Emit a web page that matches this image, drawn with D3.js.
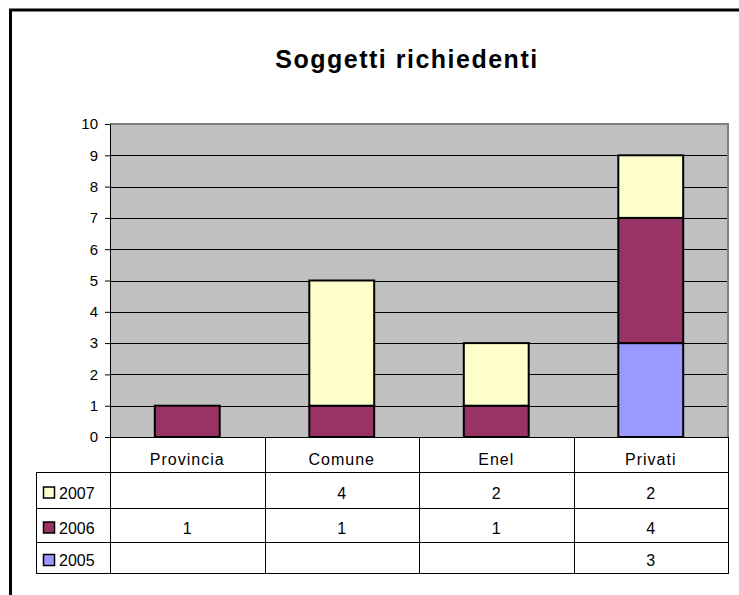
<!DOCTYPE html>
<html>
<head>
<meta charset="utf-8">
<script src="https://cdn.jsdelivr.net/npm/d3@7"></script>
<style>
  body { margin: 0; background: #fff; overflow: hidden; }
  svg { display: block; }
  text { font-family: "Liberation Sans", Arial, sans-serif; fill: #000; }
</style>
</head>
<body>
<svg width="739" height="595"></svg>
<script>
// data
var categories = ["Provincia", "Comune", "Enel", "Privati"];
var years = ["2005", "2006", "2007"];
var v2005 = [null, null, null, 3];
var v2006 = [1, 1, 1, 4];
var v2007 = [null, 4, 2, 2];
var yTicks = [0, 1, 2, 3, 4, 5, 6, 7, 8, 9, 10];

var colors = { "2005": "#9999FF", "2006": "#993366", "2007": "#FFFFCC" };
var seriesByYear = { "2005": v2005, "2006": v2006, "2007": v2007 };

var svg = d3.select("svg"),
	width = +svg.attr("width"),
	height = +svg.attr("height");

var plot = { left: 110, right: 728, top: 124, bottom: 437 };

// outer chart border (only top/left visible)
svg.append("path")
	.attr("d", "M10.5," + height + "V10H" + width)
	.attr("fill", "none")
	.attr("stroke", "#000")
	.attr("stroke-width", 3);

svg.append("text")
	.attr("x", 407).attr("y", 68)
	.attr("text-anchor", "middle")
	.style("font-size", "25px")
	.style("font-weight", "bold")
	.style("letter-spacing", "1.5px")
	.text("Soggetti richiedenti");

var x = d3.scaleBand()
	.domain(categories)
	.range([plot.left, plot.right])
	.paddingInner(0.58)
	.paddingOuter(0.29);

var xb = d3.scaleBand()
	.domain(categories)
	.range([plot.left, plot.right]);

var y = d3.scaleLinear()
	.domain([0, 10])
	.range([plot.bottom, plot.top]);

// plot background
svg.append("rect")
	.attr("x", plot.left).attr("y", plot.top)
	.attr("width", plot.right - plot.left)
	.attr("height", plot.bottom - plot.top)
	.attr("fill", "#C0C0C0");

// gridlines
svg.append("g")
	.selectAll("line")
	.data(yTicks.slice(1, -1))
	.enter().append("line")
	.attr("x1", plot.left).attr("x2", plot.right)
	.attr("y1", function(d) { return Math.round(y(d)) + 0.5; })
	.attr("y2", function(d) { return Math.round(y(d)) + 0.5; })
	.attr("stroke", "#000")
	.attr("stroke-width", 1);

// plot border top/right in gray
svg.append("path")
	.attr("d", "M" + plot.left + "," + plot.top + "H" + plot.right + "V" + plot.bottom)
	.attr("fill", "none")
	.attr("stroke", "#808080")
	.attr("stroke-width", 2);

// stacked bars
var rows = categories.map(function(c, i) {
	var r = { cat: c };
	years.forEach(function(yr) { r[yr] = seriesByYear[yr][i] || 0; });
	return r;
});
var stack = d3.stack().keys(years)(rows);

svg.append("g")
	.selectAll("g")
	.data(stack)
	.enter().append("g")
	.attr("fill", function(d) { return colors[d.key]; })
	.selectAll("rect")
	.data(function(d) { return d.filter(function(s) { return s[1] - s[0] > 0; }); })
	.enter().append("rect")
	.attr("x", function(d) { return x(d.data.cat); })
	.attr("width", x.bandwidth())
	.attr("y", function(d) { return y(d[1]); })
	.attr("height", function(d) { return y(d[0]) - y(d[1]); })
	.attr("stroke", "#000")
	.attr("stroke-width", 2);

// y axis
var yAxis = svg.append("g")
	.attr("transform", "translate(" + plot.left + ",0)")
	.call(d3.axisLeft(y).tickValues(yTicks).tickSize(5).tickSizeOuter(0).tickPadding(7));
yAxis.select(".domain").attr("stroke", "#000");
yAxis.selectAll("text")
	.style("font-size", "15px")
	.style("font-family", "'Liberation Sans', Arial, sans-serif");

// baseline
svg.append("line")
	.attr("x1", plot.left).attr("x2", plot.right)
	.attr("y1", plot.bottom + 0.5).attr("y2", plot.bottom + 0.5)
	.attr("stroke", "#000");

// data table
var tableLeft = 36;
var rowLines = [437, 472, 508, 542, 573];
var tableYears = ["2007", "2006", "2005"];
var table = svg.append("g").attr("stroke", "#000").attr("stroke-width", 1);

// horizontal lines
rowLines.slice(1).forEach(function(ly) {
	table.append("line")
		.attr("x1", tableLeft).attr("x2", plot.right)
		.attr("y1", ly + 0.5).attr("y2", ly + 0.5);
});
// vertical lines
xb.domain().forEach(function(c) {
	table.append("line")
		.attr("x1", Math.round(xb(c)) + 0.5).attr("x2", Math.round(xb(c)) + 0.5)
		.attr("y1", rowLines[0]).attr("y2", rowLines[4] + 1);
});
table.append("line")
	.attr("x1", plot.right + 0.5).attr("x2", plot.right + 0.5)
	.attr("y1", rowLines[0]).attr("y2", rowLines[4] + 1);
table.append("line")
	.attr("x1", tableLeft + 0.5).attr("x2", tableLeft + 0.5)
	.attr("y1", rowLines[1]).attr("y2", rowLines[4] + 1);

// category labels
svg.append("g")
	.selectAll("text")
	.data(categories)
	.enter().append("text")
	.attr("x", function(d) { return xb(d) + xb.bandwidth() / 2; })
	.attr("y", (rowLines[0] + rowLines[1]) / 2 + 5)
	.attr("dy", "0.35em")
	.attr("text-anchor", "middle")
	.style("font-size", "16px")
	.style("letter-spacing", "1px")
	.text(function(d) { return d; });

// rows
tableYears.forEach(function(yr, i) {
	var top = rowLines[i + 1], bot = rowLines[i + 2];
	var cy = (top + bot) / 2;
	svg.append("rect")
		.attr("x", 43.5).attr("y", cy - 3)
		.attr("width", 11).attr("height", 11)
		.attr("fill", colors[yr])
		.attr("stroke", "#000")
		.attr("stroke-width", 1.5);
	svg.append("text")
		.attr("x", 59).attr("y", cy + 3)
		.attr("dy", "0.35em")
		.style("font-size", "16px")
		.text(yr);
	svg.append("g")
		.selectAll("text")
		.data(seriesByYear[yr].map(function(v, j) { return { v: v, c: categories[j] }; })
			.filter(function(d) { return d.v !== null; }))
		.enter().append("text")
		.attr("x", function(d) { return xb(d.c) + xb.bandwidth() / 2; })
		.attr("y", cy + 3)
		.attr("dy", "0.35em")
		.attr("text-anchor", "middle")
		.style("font-size", "16px")
		.text(function(d) { return d.v; });
});
</script>
</body>
</html>
